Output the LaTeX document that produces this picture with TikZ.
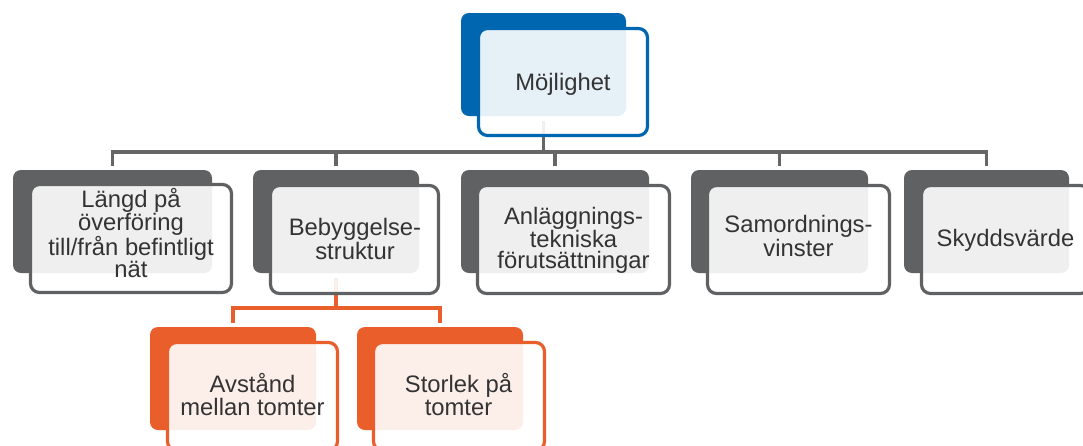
\documentclass[tikz,border=0pt]{standalone}
\usepackage{fontspec}
\setmainfont{Liberation Sans}
\definecolor{cblue}{RGB}{0,102,176}
\definecolor{cgray}{RGB}{96,97,99}
\definecolor{corange}{RGB}{233,94,42}
\definecolor{cconn}{RGB}{102,102,102}
\definecolor{ctext}{RGB}{51,51,51}
\begin{document}
\begin{tikzpicture}[x=1pt,y=-1pt,
  backbox/.style={fill=#1, rounded corners=8pt, inner sep=0pt, minimum height=103pt},
  frontbox/.style={draw=#1, line width=3.2pt, fill=white, fill opacity=0.9, rounded corners=9pt, inner sep=0pt, minimum height=108pt},
  txt/.style={text=ctext, align=center, inner sep=0pt, font=\fontsize{23.8pt}{#1}\selectfont},
  conn/.style={draw=cconn, line width=3.3pt},
  oconn/.style={draw=corange, line width=4pt}]
\useasboundingbox (0,0) rectangle (1083,445);
\clip (0,0) rectangle (1083,445);
% back boxes
\node[backbox=cblue, minimum width=165pt] (b0) at (543.5,64.5) {};
\node[backbox=cgray, minimum width=199pt] (b1) at (112.5,221.5) {};
\node[backbox=cgray, minimum width=166pt] (b2) at (336,221.5) {};
\node[backbox=cgray, minimum width=188pt] (b3) at (555,221.5) {};
\node[backbox=cgray, minimum width=177pt] (b4) at (779.5,221.5) {};
\node[backbox=cgray, minimum width=165pt] (b5) at (986.5,221.5) {};
\node[backbox=corange, minimum width=166pt] (o1) at (233,378.5) {};
\node[backbox=corange, minimum width=166pt] (o2) at (440,378.5) {};
% connectors
\coordinate (bus) at (543.5,152);
\coordinate (obus) at (336,308);
\draw[conn, shorten <=5pt] (b0.south) -- (b0.south |- bus);
\draw[conn, shorten <=4pt, shorten >=4pt] (b1.north) |- (bus) -| (b5.north);
\draw[conn, shorten >=4pt] (b2.north |- bus) -- (b2.north);
\draw[conn, shorten >=4pt] (b3.north |- bus) -- (b3.north);
\draw[conn, shorten >=4pt] (b4.north |- bus) -- (b4.north);
\draw[oconn, shorten <=5pt] (b2.south) -- (b2.south |- obus);
\draw[oconn, shorten <=4pt, shorten >=4pt] (o1.north) |- (obus) -| (o2.north);
% front boxes
\node[frontbox=cblue, minimum width=169pt, minimum height=107pt] (f0) at (563,82) {};
\node[frontbox=cgray, minimum width=201pt] (f1) at (131,238.5) {};
\node[frontbox=cgray, minimum width=168pt] (f2) at (354.5,239.5) {};
\node[frontbox=cgray, minimum width=192pt] (f3) at (573.5,239.5) {};
\node[frontbox=cgray, minimum width=182pt] (f4) at (798.5,239.5) {};
\node[frontbox=cgray, minimum width=168pt] (f5) at (1005.5,239.5) {};
\node[frontbox=corange, minimum width=170pt] (g1) at (252.5,396.5) {};
\node[frontbox=corange, minimum width=171pt] (g2) at (459,396.5) {};
% texts
\node[txt=24pt] (t0) at (563,84) {Möjlighet};
\node[txt=20.7pt] (t1) at (131,233) {Längd på\\överföring\\till/från befintligt\\nät};
\node[txt=24pt] (t2) at (355,238.5) {Bebyggelse-\\struktur};
\node[txt=20.8pt] (t3) at (573.5,240) {Anläggnings-\\tekniska\\förutsättningar};
\node[txt=23.7pt] (t4) at (798.5,236.3) {Samordnings-\\vinster};
\node[txt=24pt] (t5) at (1005.5,240.7) {Skyddsvärde};
\node[txt=23.3pt] (t6) at (252.5,394.3) {Avstånd\\mellan tomter};
\node[txt=23.3pt] (t7) at (458.5,394.3) {Storlek på\\tomter};
\end{tikzpicture}
\end{document}
